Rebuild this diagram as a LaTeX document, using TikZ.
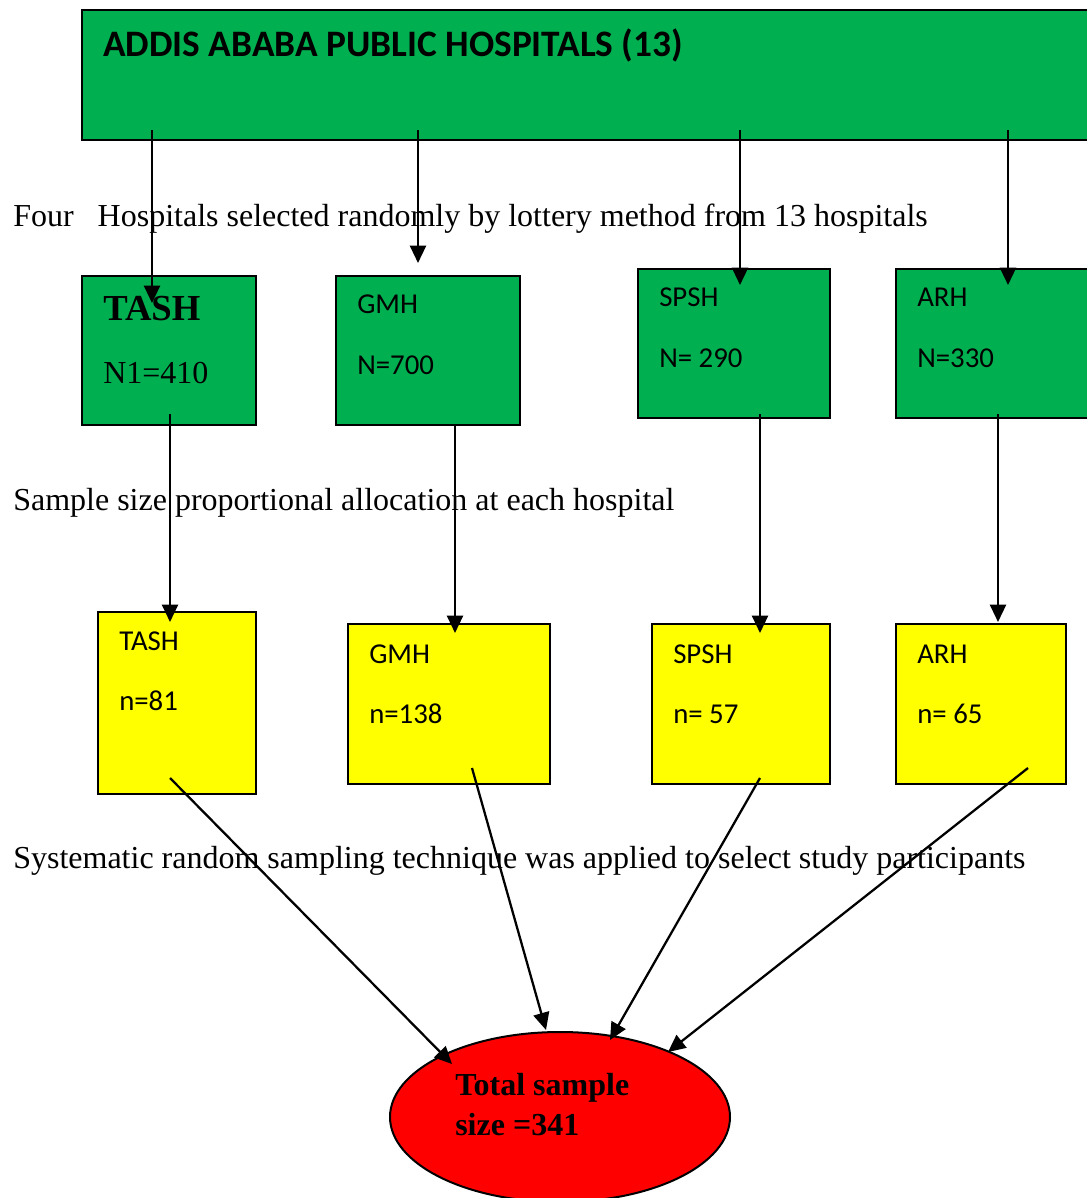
\documentclass[tikz,border=0pt]{standalone}
\usepackage{fontspec}
\setmainfont{Liberation Serif}
\newfontfamily\calfont{Carlito}
\usetikzlibrary{arrows.meta,shapes.geometric}
\definecolor{boxgreen}{HTML}{00B050}
\definecolor{boxyellow}{HTML}{FFFF00}
\definecolor{boxred}{HTML}{FF0000}
\begin{document}
\begin{tikzpicture}[x=0.75pt,y=-0.75pt,
  box/.style={draw=black,line width=1.5pt,rectangle,inner sep=0pt},
  gbox/.style={box,fill=boxgreen},
  ybox/.style={box,fill=boxyellow},
  lbl/.style={inner sep=0pt,anchor=base west},
  cal/.style={lbl,font=\calfont\fontsize{21.6}{26}\selectfont},
  body/.style={lbl,font=\fontsize{24}{29}\selectfont},
  arr/.style={line width=1.7pt,-{Triangle[length=13pt,width=12pt]}}]
\useasboundingbox (0,0) rectangle (1086,1198);
% top box
\node[gbox,minimum width=757.5pt,minimum height=97.5pt] (top) at (587,75) {};
\node[lbl,font=\calfont\bfseries\fontsize{28}{33}\selectfont] (title) at (103,57) {ADDIS ABABA PUBLIC HOSPITALS (13)};
% green boxes
\node[gbox,minimum width=130.5pt,minimum height=111.75pt] (tashG) at (169,350.5) {};
\node[gbox,minimum width=138pt,minimum height=111.75pt] (gmhG) at (428,350.5) {};
\node[gbox,minimum width=144pt,minimum height=111.75pt] (spshG) at (734,343.5) {};
\node[gbox,minimum width=147pt,minimum height=111.75pt] (arhG) at (994,343.5) {};
% yellow boxes
\node[ybox,minimum width=118.5pt,minimum height=136.5pt] (tashY) at (177,703) {};
\node[ybox,minimum width=151.5pt,minimum height=120pt] (gmhY) at (449,704) {};
\node[ybox,minimum width=133.5pt,minimum height=120pt] (spshY) at (741,704) {};
\node[ybox,minimum width=127.5pt,minimum height=120pt] (arhY) at (981,704) {};
% ellipse
\node[ellipse,draw=black,line width=1.5pt,fill=boxred,inner sep=0pt,minimum width=255pt,minimum height=127.5pt] (total) at (560,1117) {};
% body texts
\node[body] (t1) at (13,227) {Four\ \ \ Hospitals selected randomly by lottery method from 13 hospitals};
\node[body] (t2) at (13,510) {Sample size proportional allocation at each hospital};
\node[body] (t3) at (13,868) {Systematic random sampling technique was applied to select study participants};
% green box texts
\node[lbl,font=\bfseries\fontsize{27.5}{33}\selectfont] (tashGa) at (103,320) {TASH};
\node[body] (tashGb) at (103,383) {N1=410};
\node[cal] (gmhGa) at (357,313) {GMH};
\node[cal] (gmhGb) at (357,374) {N=700};
\node[cal] (spshGa) at (659,306) {SPSH};
\node[cal] (spshGb) at (659,367) {N= 290};
\node[cal] (arhGa) at (917,306) {ARH};
\node[cal] (arhGb) at (917,367) {N=330};
% yellow box texts
\node[cal] (tashYa) at (119,650) {TASH};
\node[cal] (tashYb) at (119,710) {n=81};
\node[cal] (gmhYa) at (369,663) {GMH};
\node[cal] (gmhYb) at (369,723) {n=138};
\node[cal] (spshYa) at (673,663) {SPSH};
\node[cal] (spshYb) at (673,723) {n= 57};
\node[cal] (arhYa) at (917,663) {ARH};
\node[cal] (arhYb) at (917,723) {n= 65};
% ellipse text
\node[lbl,font=\bfseries\fontsize{24}{29}\selectfont] (totA) at (455,1095) {Total sample};
\node[lbl,font=\bfseries\fontsize{24}{29}\selectfont] (totB) at (455,1135) {size =341};
% connector end points
\coordinate (a1s) at (152,130); \coordinate (a1e) at (152,303);
\coordinate (a2s) at (418,130); \coordinate (a2e) at (418,263);
\coordinate (a3s) at (740,130); \coordinate (a3e) at (740,285);
\coordinate (a4s) at (1008,130); \coordinate (a4e) at (1008,285);
\coordinate (b1s) at (170,414); \coordinate (b1e) at (170,622);
\coordinate (b2s) at (455,425); \coordinate (b2e) at (455,633);
\coordinate (b3s) at (760,414); \coordinate (b3e) at (760,633);
\coordinate (b4s) at (998,414); \coordinate (b4e) at (998,622);
\coordinate (c1s) at (170,778); \coordinate (c1e) at (452,1064);
\coordinate (c2s) at (472,768); \coordinate (c2e) at (546,1030);
\coordinate (c3s) at (760,778); \coordinate (c3e) at (610,1040);
\coordinate (c4s) at (1028,768); \coordinate (c4e) at (668,1052);
\foreach \k in {a1,a2,a3,a4,b1,b2,b3,b4,c1,c2,c3,c4}{
  \draw[arr] (\k s) -- (\k e);
}
\end{tikzpicture}
\end{document}
